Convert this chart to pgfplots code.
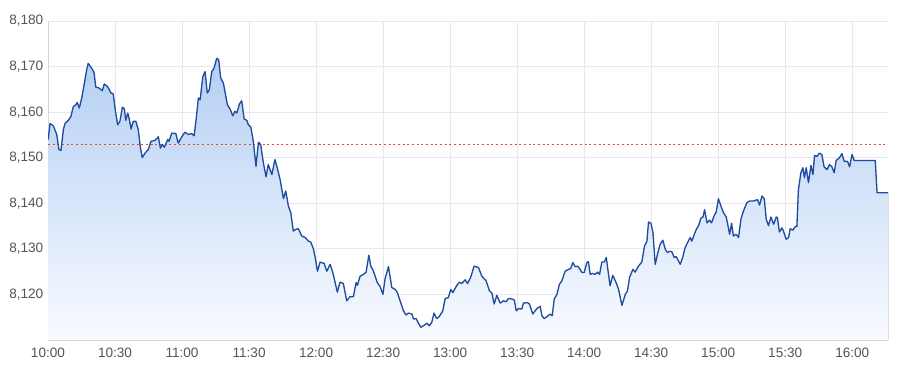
\documentclass[border=0pt]{standalone}
\usepackage{pgfplots}
\pgfplotsset{compat=1.18}
\usepackage{pgfplotstable}
\usepgfplotslibrary{fillbetween}
\usepackage{fontspec}
\setmainfont{Liberation Sans}
\definecolor{lineblue}{RGB}{32,76,160}
\definecolor{filltop}{RGB}{180,207,243}
\definecolor{fillbot}{RGB}{249,251,255}
\definecolor{gridc}{RGB}{232,232,236}
\definecolor{axisc}{RGB}{214,214,220}
\definecolor{refred}{RGB}{232,72,52}
\definecolor{labc}{RGB}{85,85,85}
\pgfplotstableread{
m v
0.1 8154.0
0.9 8157.5
2.4 8157.0
3.9 8155.1
4.9 8151.8
5.8 8151.6
6.9 8156.2
7.6 8157.5
9.1 8158.2
10.3 8159.1
11.3 8161.2
12.4 8161.6
13.1 8162.1
14.0 8160.9
15.1 8163.1
16.3 8166.4
17.3 8169.3
18.0 8170.7
19.6 8169.6
20.6 8168.7
21.4 8165.5
22.8 8165.3
24.3 8164.7
25.2 8166.2
26.7 8165.6
28.2 8164.2
29.2 8164.0
30.3 8159.8
31.2 8157.2
32.2 8158.0
33.3 8161.1
34.2 8160.7
34.8 8158.2
35.7 8159.8
36.3 8158.7
37.2 8156.3
38.2 8158.0
39.3 8158.0
40.4 8156.2
41.3 8152.4
42.2 8150.0
43.4 8151.0
44.9 8151.8
46.1 8153.6
47.9 8153.8
49.4 8154.6
50.3 8152.1
51.2 8152.9
52.1 8152.3
53.6 8154.0
54.2 8153.6
55.4 8155.4
57.2 8155.3
58.3 8153.2
59.9 8154.6
61.3 8155.6
62.8 8155.1
64.3 8155.3
65.4 8154.8
66.3 8158.3
67.3 8163.1
68.1 8162.7
69.3 8167.8
70.3 8168.9
71.3 8164.2
72.2 8164.9
73.3 8168.9
74.3 8169.6
75.5 8171.8
76.4 8171.5
77.3 8167.5
78.5 8166.4
80.3 8161.6
81.5 8160.7
82.7 8159.2
83.7 8160.2
84.5 8159.8
85.7 8161.8
86.7 8162.5
87.8 8158.5
89.0 8158.2
89.7 8157.2
90.8 8156.7
91.9 8153.6
93.1 8148.1
94.2 8153.4
95.2 8152.9
96.4 8148.9
97.6 8145.8
98.6 8148.5
100.2 8146.3
101.6 8149.6
102.7 8147.6
103.9 8145.2
105.4 8141.0
106.4 8142.7
107.6 8139.4
108.7 8137.9
109.8 8133.9
111.0 8134.3
112.1 8134.4
113.6 8132.8
115.1 8132.5
116.6 8131.7
117.6 8131.5
118.8 8130.0
119.6 8128.1
120.6 8125.1
121.8 8127.1
123.6 8126.8
124.8 8125.1
126.3 8126.6
127.7 8124.4
129.5 8120.5
130.7 8122.7
132.2 8122.4
133.7 8118.6
135.2 8119.5
136.7 8119.5
137.9 8122.6
138.5 8122.0
139.7 8124.0
141.2 8124.4
142.4 8124.9
143.6 8128.6
144.5 8126.2
145.7 8125.1
147.4 8122.6
148.7 8121.7
149.9 8120.0
150.9 8123.5
152.4 8126.1
153.9 8121.5
155.4 8121.1
156.4 8120.4
157.6 8118.6
159.1 8116.4
160.3 8115.5
161.3 8115.9
162.9 8115.7
163.6 8114.6
164.8 8114.7
165.8 8113.7
166.9 8112.8
168.0 8113.1
169.6 8113.7
170.7 8113.1
171.8 8113.9
172.8 8115.9
174.0 8114.7
175.2 8115.2
176.7 8116.4
177.8 8119.1
179.2 8119.3
180.3 8121.1
181.2 8120.4
183.0 8122.0
184.2 8122.7
185.2 8122.4
186.7 8123.2
187.8 8122.4
189.3 8123.9
190.7 8126.2
192.7 8125.9
194.2 8124.0
196.1 8123.0
197.6 8120.8
198.7 8120.3
199.7 8117.9
200.9 8119.8
202.4 8118.1
203.9 8118.6
205.1 8118.4
206.1 8119.1
207.6 8119.0
208.7 8118.8
209.6 8116.4
210.6 8116.9
212.1 8116.8
212.8 8118.1
214.6 8118.2
215.5 8117.9
217.0 8115.7
218.8 8116.9
220.3 8117.4
221.1 8115.3
222.1 8114.7
223.6 8115.2
224.8 8115.7
225.7 8115.3
226.6 8119.0
227.8 8120.0
228.9 8122.2
230.0 8123.0
231.5 8125.1
233.0 8125.5
234.0 8125.7
234.9 8127.0
236.0 8126.1
237.0 8126.2
237.9 8125.7
239.0 8124.8
240.0 8124.8
241.2 8127.0
241.9 8127.2
242.7 8124.4
243.9 8124.6
244.9 8124.4
246.0 8124.9
246.9 8124.4
247.9 8127.1
249.0 8127.1
249.9 8128.1
250.4 8126.2
251.6 8121.9
252.8 8124.2
254.3 8122.6
255.4 8121.1
256.9 8117.6
258.4 8120.0
259.4 8120.8
260.3 8123.7
261.8 8125.5
262.8 8124.9
264.3 8126.2
265.8 8127.1
267.0 8130.6
268.1 8131.7
268.8 8135.9
269.9 8135.6
270.8 8133.5
271.8 8126.6
272.8 8128.8
274.0 8131.0
275.2 8131.9
276.3 8129.9
277.3 8129.2
278.5 8129.5
279.3 8129.3
280.3 8128.1
281.2 8128.3
283.0 8126.6
284.2 8128.3
285.2 8130.3
286.3 8131.4
287.5 8132.5
288.2 8131.7
289.3 8133.2
290.2 8134.3
291.2 8135.1
292.3 8136.8
293.2 8137.0
293.9 8138.6
295.0 8135.7
296.1 8136.3
297.0 8135.7
298.2 8137.3
299.1 8138.1
300.1 8141.0
301.2 8139.4
302.4 8137.9
303.6 8137.0
305.1 8133.2
306.0 8135.6
306.8 8132.8
308.0 8133.2
309.1 8132.5
310.2 8136.6
311.3 8138.3
312.8 8140.1
314.0 8140.5
315.8 8140.5
317.6 8140.8
318.5 8139.6
319.6 8141.6
320.6 8141.0
321.5 8136.5
322.5 8135.1
323.6 8137.0
324.8 8135.4
326.0 8137.0
326.5 8136.8
327.4 8133.7
328.5 8134.6
329.2 8133.9
330.4 8132.1
331.5 8132.5
332.2 8134.4
333.4 8134.1
334.5 8134.9
335.2 8134.9
335.9 8143.0
337.0 8146.7
337.9 8147.8
338.6 8145.6
339.4 8147.8
340.4 8144.5
341.5 8148.3
342.4 8146.3
343.1 8150.5
344.2 8150.3
345.3 8151.0
346.4 8150.7
347.4 8148.0
348.7 8147.4
349.8 8148.5
350.9 8148.0
351.9 8146.7
352.8 8149.4
354.3 8150.0
355.4 8150.9
356.4 8149.2
357.9 8149.2
358.8 8148.0
359.9 8150.7
360.9 8149.4
370.3 8149.4
371.1 8142.3
376.0 8142.3
}\pricetable
\begin{document}
\begin{tikzpicture}
\begin{axis}[
  at={(0,0)}, anchor=south west,
  scale only axis,
  width=630pt, height=239.25pt,
  xmin=0, xmax=376,
  ymin=8110, ymax=8180,
  xtick={0,30,...,360},
  xticklabels={10:00,10:30,11:00,11:30,12:00,12:30,13:00,13:30,14:00,14:30,15:00,15:30,16:00},
  ytick={8120,8130,...,8180},
  yticklabels={{8,120},{8,130},{8,140},{8,150},{8,160},{8,170},{8,180}},
  grid=major,
  major grid style={draw=gridc, line width=0.75pt},
  major tick length=0pt,
  axis x line*=bottom,
  axis y line*=left,
  x axis line style={-, draw=axisc, line width=0.75pt},
  y axis line style={-, draw=axisc, line width=0.75pt},
  tick label style={font=\fontsize{10.2}{12}\selectfont, text=labc},
  xticklabel style={yshift=-2.6pt},
  clip=true,
]
\addplot[name path=price, draw=none, forget plot] table[x=m, y=v] {\pricetable};
\addplot[name path=base, draw=none, forget plot] coordinates {(0,8110) (376,8110)};
\addplot[top color=filltop, bottom color=fillbot, draw=none, forget plot] fill between[of=price and base];
\addplot[refred, line width=0.75pt, dash pattern=on 1.5pt off 2pt] coordinates {(0,8153) (376,8153)};
\addplot[lineblue, line width=1pt, line join=round] table[x=m, y=v] {\pricetable};
\end{axis}
\pgfresetboundingbox
\path[use as bounding box] (-36pt,-26.25pt) rectangle (639pt,255pt);
\end{tikzpicture}
\end{document}
